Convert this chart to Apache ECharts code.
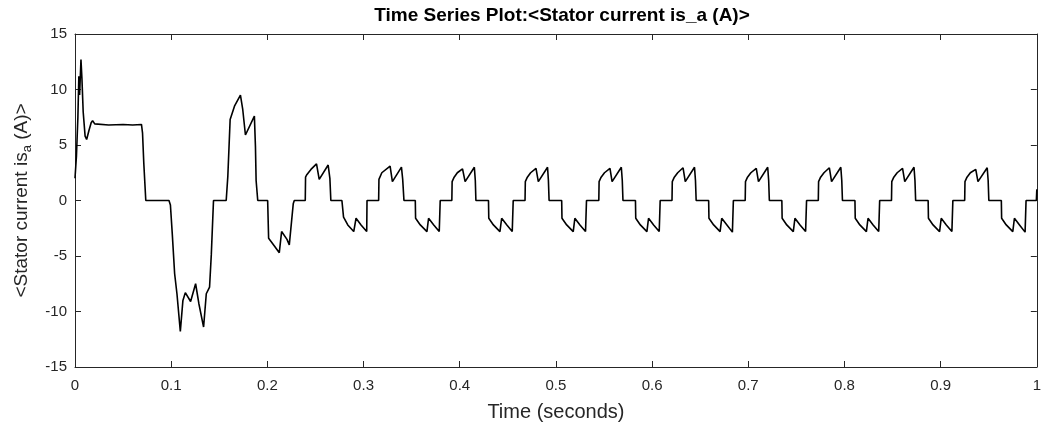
<!DOCTYPE html>
<html>
<head>
<meta charset="utf-8">
<script src="https://cdn.jsdelivr.net/npm/echarts@6/dist/echarts.min.js"></script>
<style>
html,body{margin:0;padding:0;background:#fff;}
#chart{width:1044px;height:427px;}
</style>
</head>
<body>
<div id="chart"></div>
<script>
// ---- data (time in seconds, current in A) ----
const startup = [
  [0, 2.0], [0.0015, 4.0], [0.003, 7.5], [0.004, 11.2], [0.0048, 9.5], [0.0062, 12.7],
  [0.0072, 11.0], [0.0085, 8.0], [0.0105, 5.8], [0.0121, 5.5], [0.0145, 6.3], [0.0168, 7.0],
  [0.0183, 7.2], [0.0205, 6.9], [0.0225, 6.85], [0.035, 6.8], [0.05, 6.85], [0.06, 6.8],
  [0.0691, 6.85], [0.0702, 6.1], [0.0715, 3.4], [0.0736, 0], [0.0977, 0],
  [0.0992, -0.4], [0.1012, -3.1], [0.1036, -6.6], [0.106, -8.4], [0.1095, -11.8],
  [0.1122, -9.0], [0.1147, -8.3], [0.1202, -9.1], [0.1254, -7.5], [0.1288, -9.3],
  [0.1337, -11.4], [0.1365, -8.4], [0.1399, -7.8], [0.1417, -4.9], [0.1440, 0], [0.1572, 0],
  [0.1589, 2.2], [0.1613, 7.3], [0.1658, 8.5], [0.172, 9.5], [0.1744, 8.2], [0.1772, 5.9],
  [0.1865, 7.6], [0.1876, 4.9], [0.1883, 1.8], [0.19, 0], [0.2003, 0],
  [0.2013, -3.4], [0.2073, -4.1], [0.2124, -4.7], [0.2148, -2.8], [0.2204, -3.5],
  [0.2228, -4.0], [0.2269, -0.3], [0.228, 0]
];
const positiveLobes = [
  [[0.2394,0],[0.2397,2.1],[0.2408,2.3],[0.2453,2.8],[0.2511,3.3],[0.2539,1.9],[0.2632,3.2],[0.2650,2.0],[0.2660,0]],
  [[0.3157,0],[0.3160,1.9],[0.3190,2.5],[0.3276,3.1],[0.3300,1.7],[0.3394,3.0],[0.3407,1.9],[0.3420,0]],
  [[0.3918,0],[0.3921,1.7],[0.3942,2.1],[0.3975,2.5],[0.4029,2.85],[0.4056,1.7],[0.4152,3.0],[0.4162,1.8],[0.4168,0]],
  [[0.4679,0],[0.4682,1.7],[0.4703,2.1],[0.4737,2.5],[0.4793,2.9],[0.4817,1.7],[0.4913,3.0],[0.4922,1.8],[0.4929,0]],
  [[0.5446,0],[0.5449,1.7],[0.5470,2.1],[0.5505,2.5],[0.5562,2.9],[0.5584,1.7],[0.5680,3.0],[0.5690,1.8],[0.5697,0]],
  [[0.6207,0],[0.6210,1.7],[0.6231,2.1],[0.6266,2.5],[0.6322,2.95],[0.6345,1.7],[0.6441,3.0],[0.6451,1.8],[0.6458,0]],
  [[0.6968,0],[0.6971,1.7],[0.6992,2.1],[0.7027,2.5],[0.7083,2.9],[0.7106,1.7],[0.7202,3.0],[0.7212,1.8],[0.7219,0]],
  [[0.7728,0],[0.7731,1.7],[0.7752,2.1],[0.7787,2.5],[0.7843,2.95],[0.7866,1.7],[0.7962,3.0],[0.7972,1.8],[0.7979,0]],
  [[0.8489,0],[0.8492,1.7],[0.8513,2.1],[0.8548,2.5],[0.8604,2.9],[0.8627,1.7],[0.8723,3.0],[0.8733,1.8],[0.8740,0]],
  [[0.9250,0],[0.9253,1.7],[0.9274,2.1],[0.9309,2.5],[0.9365,2.8],[0.9388,1.7],[0.9484,2.95],[0.9494,1.8],[0.9501,0]]
];
const negativeLobes = [
  [[0.2775,0],[0.2792,-1.5],[0.2836,-2.2],[0.2898,-2.8],[0.2922,-1.6],[0.2974,-2.2],[0.3033,-2.8],[0.3036,0]],
  [[0.3538,0],[0.3541,-1.6],[0.3590,-2.2],[0.3659,-2.8],[0.3676,-1.6],[0.3730,-2.2],[0.3787,-2.8],[0.3797,0]],
  [[0.4299,0],[0.4302,-1.6],[0.4350,-2.2],[0.4418,-2.8],[0.4436,-1.6],[0.4490,-2.2],[0.4546,-2.8],[0.4556,0]],
  [[0.5060,0],[0.5063,-1.6],[0.5112,-2.2],[0.5180,-2.8],[0.5197,-1.6],[0.5250,-2.2],[0.5308,-2.8],[0.5318,0]],
  [[0.5827,0],[0.5830,-1.6],[0.5878,-2.2],[0.5946,-2.8],[0.5963,-1.6],[0.6016,-2.2],[0.6074,-2.8],[0.6084,0]],
  [[0.6588,0],[0.6591,-1.6],[0.6640,-2.2],[0.6707,-2.8],[0.6724,-1.6],[0.6778,-2.2],[0.6835,-2.85],[0.6845,0]],
  [[0.7349,0],[0.7352,-1.6],[0.7400,-2.2],[0.7468,-2.8],[0.7485,-1.6],[0.7538,-2.2],[0.7596,-2.8],[0.7606,0]],
  [[0.8109,0],[0.8112,-1.6],[0.8160,-2.2],[0.8228,-2.8],[0.8245,-1.6],[0.8298,-2.2],[0.8356,-2.8],[0.8366,0]],
  [[0.8870,0],[0.8873,-1.6],[0.8921,-2.2],[0.8989,-2.8],[0.9006,-1.6],[0.9059,-2.2],[0.9117,-2.8],[0.9127,0]],
  [[0.9631,0],[0.9634,-1.6],[0.9682,-2.2],[0.9750,-2.8],[0.9767,-1.6],[0.9820,-2.2],[0.9878,-2.85],[0.9888,0]]
];
const ending = [[0.9995, 0], [1.0, 1.0]];
const xTickLabels = ['0','0.1','0.2','0.3','0.4','0.5','0.6','0.7','0.8','0.9','1'];
const yTickLabels = ['-15','-10','-5','0','5','10','15'];

// ---- build series ----
let points = startup.slice();
positiveLobes.forEach(l => points = points.concat(l));
negativeLobes.forEach(l => points = points.concat(l));
points = points.concat(ending);
points.sort((a, b) => a[0] - b[0]);

const FONT = '"Liberation Sans", Arial, Helvetica, sans-serif';
const AX = '#262626';

const chart = echarts.init(document.getElementById('chart'), null, {renderer: 'canvas'});
const tickStyle = {show: true, inside: true, length: 6, lineStyle: {color: AX, width: 1}};
const lineStyleAx = {show: true, onZero: false, lineStyle: {color: AX, width: 1}};

chart.setOption({
  animation: false,
  backgroundColor: '#fff',
  title: {
    text: 'Time Series Plot:<Stator current is_a (A)>',
    left: 557, top: 1, textAlign: 'center',
    textStyle: {fontFamily: FONT, fontSize: 19, fontWeight: 'bold', color: '#000'}
  },
  grid: {left: 75, right: 4, top: 34, bottom: 56, containLabel: false},
  xAxis: [{
    type: 'value', min: 0, max: 1, interval: 0.1, position: 'bottom',
    axisLine: lineStyleAx, axisTick: tickStyle, splitLine: {show: false},
    axisLabel: {
      margin: 11, color: AX, fontFamily: FONT, fontSize: 15,
      formatter: v => xTickLabels[Math.round(v * 10)]
    },
    name: 'Time (seconds)', nameLocation: 'middle', nameGap: 35,
    nameTextStyle: {fontFamily: FONT, fontSize: 20, color: AX}
  }, {
    type: 'value', min: 0, max: 1, interval: 0.1, position: 'top',
    axisLine: lineStyleAx, axisTick: tickStyle, axisLabel: {show: false}, splitLine: {show: false}
  }],
  yAxis: [{
    type: 'value', min: -15, max: 15, interval: 5, position: 'left',
    axisLine: lineStyleAx, axisTick: tickStyle, splitLine: {show: false},
    axisLabel: {
      margin: 8, color: AX, fontFamily: FONT, fontSize: 15,
      formatter: v => yTickLabels[Math.round((v + 15) / 5)]
    },
    name: '{a|<Stator current is}{b|a}{a| (A)>}', nameLocation: 'middle', nameGap: 40,
    nameTextStyle: {
      fontFamily: FONT, fontSize: 19, color: AX,
      rich: {
        a: {fontFamily: FONT, fontSize: 19, color: AX, lineHeight: 26, verticalAlign: 'middle'},
        b: {fontFamily: FONT, fontSize: 13, color: AX, lineHeight: 13, verticalAlign: 'middle', padding: [13, 0, 0, 0]}
      }
    }
  }, {
    type: 'value', min: -15, max: 15, interval: 5, position: 'right',
    axisLine: lineStyleAx, axisTick: tickStyle, axisLabel: {show: false}, splitLine: {show: false}
  }],
  series: [{
    type: 'line', xAxisIndex: 0, yAxisIndex: 0,
    data: points, showSymbol: false, symbol: 'none',
    lineStyle: {color: '#000', width: 1.6},
    silent: true
  }]
});
</script>
</body>
</html>
